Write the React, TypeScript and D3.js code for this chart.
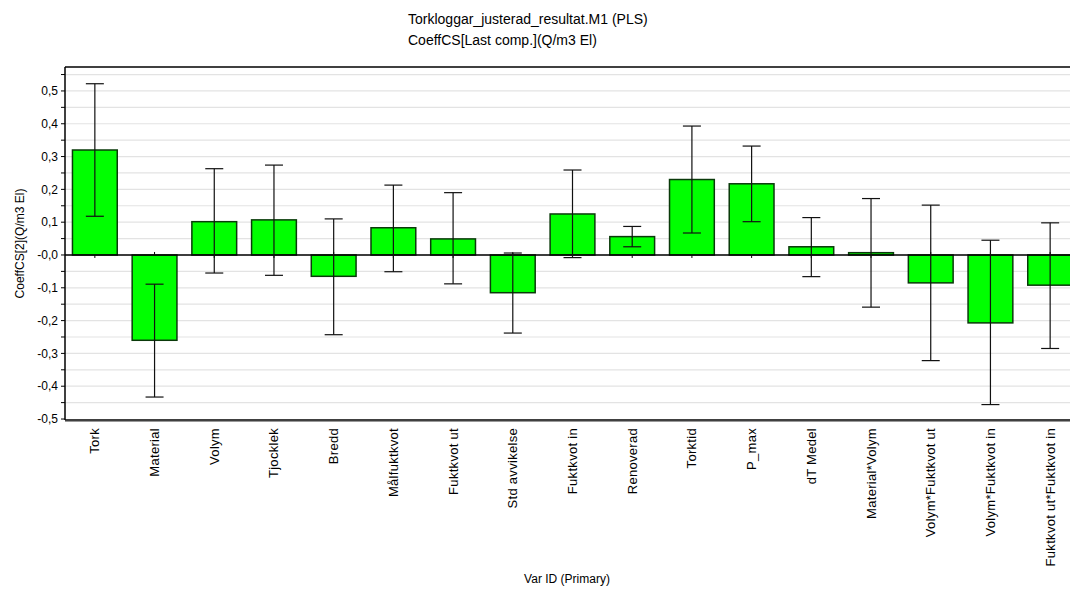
import React from "react";
import * as d3 from "d3";

const categories = [
  "Tork", "Material", "Volym", "Tjocklek", "Bredd", "Målfuktkvot", "Fuktkvot ut",
  "Std avvikelse", "Fuktkvot in", "Renoverad", "Torktid", "P_max", "dT Medel",
  "Material*Volym", "Volym*Fuktkvot ut", "Volym*Fuktkvot in", "Fuktkvot ut*Fuktkvot in",
];
const coeffs = [0.32, -0.26, 0.1015, 0.107, -0.065, 0.083, 0.049, -0.115, 0.125, 0.056,
  0.23, 0.217, 0.025, 0.007, -0.085, -0.207, -0.092];
const errHigh = [0.522, -0.089, 0.263, 0.274, 0.11, 0.213, 0.19, 0.006, 0.259, 0.087,
  0.393, 0.332, 0.114, 0.172, 0.152, 0.045, 0.098];
const errLow = [0.118, -0.433, -0.055, -0.062, -0.243, -0.051, -0.088, -0.238, -0.008, 0.025,
  0.067, 0.1015, -0.066, -0.159, -0.322, -0.456, -0.285];
const yTickValues = [-0.5, -0.4, -0.3, -0.2, -0.1, 0, 0.1, 0.2, 0.3, 0.4, 0.5];
const yTickLabels = ["-0,5", "-0,4", "-0,3", "-0,2", "-0,1", "-0,0", "0,1", "0,2", "0,3", "0,4", "0,5"];
const gridValues = [-0.45, -0.4, -0.35, -0.3, -0.25, -0.2, -0.15, -0.1, -0.05, 0, 0.05, 0.1, 0.15, 0.2, 0.25, 0.3, 0.35, 0.4, 0.45, 0.5, 0.55];
const title1 = "Torkloggar_justerad_resultat.M1 (PLS)";
const title2 = "CoeffCS[Last comp.](Q/m3 El)";
const yTitle = "CoeffCS[2](Q/m3 El)";
const xTitle = "Var ID (Primary)";

export default function App() {
  const W = 1070, H = 589;
  const left = 65, top = 67, bottom = 420, right = 1080;
  const x = d3.scaleBand<string>().domain(categories).range([left, right]).paddingInner(0.25).paddingOuter(0.125);
  const y = d3.scaleLinear().domain([-0.503, 0.573]).range([bottom, top]);
  const font = "Liberation Sans, Arial, sans-serif";
  const bw = x.bandwidth();
  return (
    <svg width={W} height={H} style={{ position: "absolute", left: 0, top: 0, background: "#fff" }} fontFamily={font}>
      <rect x={0} y={0} width={W} height={H} fill="#fff" />
      <text x={408} y={24} fontSize={14} fill="#000">{title1}</text>
      <text x={408} y={45} fontSize={14} fill="#000">{title2}</text>
      {gridValues.map((g, i) => (
        <line key={"g" + i} x1={left} x2={right} y1={y(g)} y2={y(g)} stroke="#e3e3e3" strokeWidth={1.2} />
      ))}
      {categories.map((c, i) => (
        <line key={"zt" + i} x1={x(c)! + bw / 2} x2={x(c)! + bw / 2} y1={y(0) - 3} y2={y(0) + 3} stroke="#000" strokeWidth={1} />
      ))}
      {categories.map((c, i) => {
        const v = coeffs[i];
        const y0 = y(Math.max(0, v));
        const y1 = y(Math.min(0, v));
        return (
          <rect key={"b" + i} x={x(c)!} y={y0} width={bw} height={y1 - y0} fill="#00ff00" stroke="#0a3a0a" strokeWidth={1.5} />
        );
      })}
      <line x1={left} x2={right} y1={y(0)} y2={y(0)} stroke="#000" strokeWidth={1.3} />
      {categories.map((c, i) => {
        const cx = x(c)! + bw / 2;
        return (
          <g key={"e" + i} stroke="#111" strokeWidth={1.2}>
            <line x1={cx} x2={cx} y1={y(errHigh[i])} y2={y(errLow[i])} />
            <line x1={cx - 9} x2={cx + 9} y1={y(errHigh[i])} y2={y(errHigh[i])} />
            <line x1={cx - 9} x2={cx + 9} y1={y(errLow[i])} y2={y(errLow[i])} />
          </g>
        );
      })}
      <line x1={left} x2={right} y1={top} y2={top} stroke="#000" strokeWidth={1.5} />
      <line x1={left} x2={left} y1={top} y2={bottom} stroke="#000" strokeWidth={1.5} />
      <line x1={left} x2={right} y1={bottom} y2={bottom} stroke="#000" strokeWidth={1.5} />
      <line x1={left} x2={right} y1={bottom + 1.5} y2={bottom + 1.5} stroke="#999" strokeWidth={1} />
      {gridValues.concat([-0.5]).map((g, i) => (
        <line key={"mt" + i} x1={left - 4} x2={left} y1={y(g)} y2={y(g)} stroke="#000" strokeWidth={1} />
      ))}
      {yTickValues.map((t, i) => (
        <text key={"yt" + i} x={58} y={y(t)} dy="0.35em" textAnchor="end" fontSize={12} fill="#000">{yTickLabels[i]}</text>
      ))}
      <text transform={`translate(24,${(top + bottom) / 2}) rotate(-90)`} textAnchor="middle" fontSize={12} fill="#000">{yTitle}</text>
      {categories.map((c, i) => (
        <text key={"xl" + i} transform={`translate(${x(c)! + bw / 2 + 4.5},428) rotate(-90)`} textAnchor="end" fontSize={13} letterSpacing={0.3} fill="#000">{c}</text>
      ))}
      <text x={567} y={583} textAnchor="middle" fontSize={12} fill="#000">{xTitle}</text>
    </svg>
  );
}
